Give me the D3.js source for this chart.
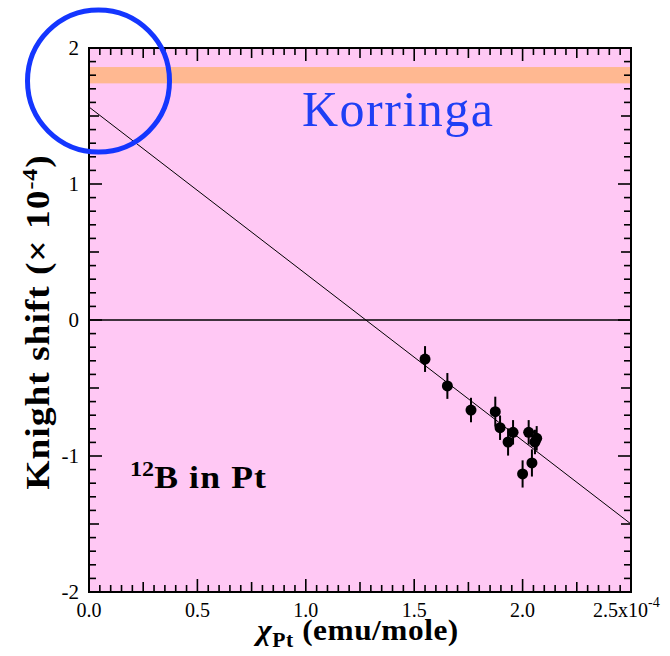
<!DOCTYPE html>
<html>
<head>
<meta charset="utf-8">
<script src="https://cdn.jsdelivr.net/npm/d3@7/dist/d3.min.js"></script>
<style>
  html, body { margin: 0; padding: 0; background: #fff; }
</style>
</head>
<body>
<svg id="chart" width="670" height="656"></svg>
<script>
// Susceptibility of Pt (units of 1e-4 emu/mole)
const chiValues   = [1.55, 1.653, 1.762, 1.874, 1.896, 1.933, 1.956, 2.000, 2.028, 2.043, 2.057, 2.065];
// Knight shift of 12B (units of 1e-4)
const shiftValues = [-0.287, -0.485, -0.662, -0.674, -0.792, -0.897, -0.826, -1.132, -0.826, -1.051, -0.897, -0.870];
const shiftErrors = [0.095, 0.095, 0.09, 0.11, 0.09, 0.1, 0.09, 0.1, 0.09, 0.1, 0.09, 0.09];

// Linear fit: K = intercept + slope * chi
const fitIntercept = 1.566;
const fitSlope = -1.2264;

// Korringa band limits
const korringaBand = [1.74, 1.86];

const xTicks = [0.0, 0.5, 1.0, 1.5, 2.0, 2.5];
const xTickLabels = ["0.0", "0.5", "1.0", "1.5", "2.0", "2.5x10"];
const yTicks = [-2, -1, 0, 1, 2];
const yTickLabels = ["-2", "-1", "0", "1", "2"];

const SERIF = "'Liberation Serif', 'Times New Roman', Times, serif";
const svg = d3.select("#chart").attr("font-family", SERIF);
const plot = { left: 89, right: 631, top: 48, bottom: 592 };

const x = d3.scaleLinear().domain([0, 2.5]).range([plot.left, plot.right]);
const y = d3.scaleLinear().domain([-2, 2]).range([plot.bottom, plot.top]);

// background
svg.append("rect")
  .attr("x", plot.left).attr("y", plot.top)
  .attr("width", plot.right - plot.left).attr("height", plot.bottom - plot.top)
  .attr("fill", "#ffc8f4");

// Korringa band
svg.append("rect")
  .attr("x", plot.left).attr("y", y(korringaBand[1]))
  .attr("width", plot.right - plot.left)
  .attr("height", y(korringaBand[0]) - y(korringaBand[1]))
  .attr("fill", "#ffb891");

// zero line
svg.append("line")
  .attr("x1", plot.left).attr("x2", plot.right)
  .attr("y1", y(0)).attr("y2", y(0))
  .attr("stroke", "#000").attr("stroke-width", 1.3);

// fit line
svg.append("line")
  .attr("x1", x(0)).attr("y1", y(fitIntercept))
  .attr("x2", x(2.5)).attr("y2", y(fitIntercept + fitSlope * 2.5))
  .attr("stroke", "#000").attr("stroke-width", 1);

// data with error bars
const pts = chiValues.map((c, i) => ({ c, k: shiftValues[i], e: shiftErrors[i] }));
const g = svg.append("g");
g.selectAll("line.err").data(pts).join("line")
  .attr("class", "err")
  .attr("x1", d => x(d.c)).attr("x2", d => x(d.c))
  .attr("y1", d => y(d.k + d.e)).attr("y2", d => y(d.k - d.e))
  .attr("stroke", "#000").attr("stroke-width", 2);
g.selectAll("circle").data(pts).join("circle")
  .attr("cx", d => x(d.c)).attr("cy", d => y(d.k))
  .attr("r", 5.5).attr("fill", "#000");

// inward ticks on all four sides
function tickSet(step, dom) {
  const n = Math.round((dom[1] - dom[0]) / step);
  return d3.range(n + 1).map(i => +(dom[0] + i * step).toFixed(4));
}
const xMinor = tickSet(0.05, [0, 2.5]);
const yMinor = tickSet(0.1, [-2, 2]);
function xLen(v) {
  const r = Math.round(v * 100);
  if (r % 50 === 0) return 13;
  if (r % 25 === 0) return 10;
  return 7;
}
function yLen(v) {
  const r = Math.round(v * 10);
  if (r % 10 === 0) return 13;
  if (r % 5 === 0) return 10;
  return 7;
}
const ticks = svg.append("g").attr("stroke", "#000").attr("stroke-width", 1.6);
xMinor.forEach(v => {
  if (v <= 0 || v >= 2.5) return;
  ticks.append("line").attr("x1", x(v)).attr("x2", x(v)).attr("y1", plot.bottom).attr("y2", plot.bottom - xLen(v));
  ticks.append("line").attr("x1", x(v)).attr("x2", x(v)).attr("y1", plot.top).attr("y2", plot.top + xLen(v));
});
yMinor.forEach(v => {
  if (v <= -2 || v >= 2) return;
  ticks.append("line").attr("y1", y(v)).attr("y2", y(v)).attr("x1", plot.left).attr("x2", plot.left + yLen(v));
  ticks.append("line").attr("y1", y(v)).attr("y2", y(v)).attr("x1", plot.right).attr("x2", plot.right - yLen(v));
});

// frame
svg.append("rect")
  .attr("x", plot.left).attr("y", plot.top)
  .attr("width", plot.right - plot.left).attr("height", plot.bottom - plot.top)
  .attr("fill", "none").attr("stroke", "#000").attr("stroke-width", 2);

// tick labels
const xl = svg.append("g").attr("font-size", 20).attr("fill", "#000");
xTicks.forEach((v, i) => {
  const t = xl.append("text").attr("x", x(v)).attr("y", 617).attr("text-anchor", "middle");
  if (i === xTicks.length - 1) {
    t.attr("text-anchor", "start").attr("x", 593);
    t.text(xTickLabels[i]);
    t.append("tspan").attr("dy", -10).attr("font-size", 14).text("-4");
  } else {
    t.text(xTickLabels[i]);
  }
});
const yl = svg.append("g").attr("font-size", 21).attr("fill", "#000");
yTicks.forEach((v, i) => {
  yl.append("text").attr("x", 79).attr("y", y(v) + 7).attr("text-anchor", "end").text(yTickLabels[i]);
});

// axis titles (slightly widened bold face)
const xt = svg.append("text")
  .attr("transform", "translate(358,640) scale(1.08,1)")
  .attr("text-anchor", "middle")
  .attr("font-size", 29).attr("font-weight", "bold")
  .attr("letter-spacing", 0.5);
xt.append("tspan").attr("font-style", "italic").text("χ");
xt.append("tspan").attr("dy", 7).attr("font-size", 20).text("Pt");
xt.append("tspan").attr("dy", -7).text(" (emu/mole)");

const yt = svg.append("text")
  .attr("transform", "translate(49,322) rotate(-90) scale(1.14,1)")
  .attr("text-anchor", "middle")
  .attr("font-size", 33).attr("font-weight", "bold")
  .attr("letter-spacing", 0.8);
yt.append("tspan").text("Knight shift (× 10");
yt.append("tspan").attr("dy", -12).attr("font-size", 21).text("-4");
yt.append("tspan").attr("dy", 12).text(")");

// sample label
const sl = svg.append("text").attr("transform", "translate(130,488) scale(1.15,1)")
  .attr("font-size", 31).attr("font-weight", "bold")
  .attr("letter-spacing", 1);
sl.append("tspan").attr("dy", -12).attr("font-size", 21).attr("letter-spacing", 0).text("12");
sl.append("tspan").attr("dy", 12).text("B in Pt");

// Korringa label
svg.append("text")
  .attr("x", 302).attr("y", 126)
  .attr("textLength", 191).attr("lengthAdjust", "spacing")
  .attr("font-size", 50).attr("fill", "#1f3ff5").text("Korringa");

// highlight circle near the y-axis intercept
svg.append("circle")
  .attr("cx", 98.5).attr("cy", 81).attr("r", 71)
  .attr("fill", "none").attr("stroke", "#1436ff").attr("stroke-width", 5);
</script>
</body>
</html>
